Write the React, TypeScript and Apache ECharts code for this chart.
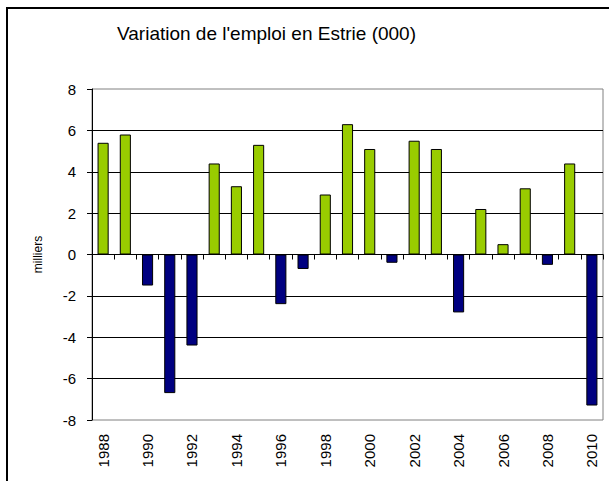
import React, { useEffect, useRef } from "react";
import * as echarts from "echarts";

const years: string[] = [
  "1988", "1989", "1990", "1991", "1992", "1993", "1994", "1995", "1996", "1997", "1998", "1999",
  "2000", "2001", "2002", "2003", "2004", "2005", "2006", "2007", "2008", "2009", "2010",
];
const variation: number[] = [
  5.4, 5.8, -1.5, -6.7, -4.4, 4.4, 3.3, 5.3, -2.4, -0.7, 2.9, 6.3,
  5.1, -0.4, 5.5, 5.1, -2.8, 2.2, 0.5, 3.2, -0.5, 4.4, -7.3,
];
const titleText = "Variation de l'emploi en Estrie (000)";
const yAxisName = "milliers";
const positiveColor = "#99CC00";
const negativeColor = "#000080";

export default function App() {
  const ref = useRef<HTMLDivElement>(null);
  useEffect(() => {
    if (!ref.current) return;
    const chart = echarts.init(ref.current, null, { renderer: "svg" });
    const font = "'Liberation Sans', Arial, sans-serif";
    chart.setOption({
      animation: false,
      backgroundColor: "#ffffff",
      title: {
        text: titleText,
        left: 112,
        top: 19,
        textStyle: {
          fontFamily: font,
          fontSize: 19,
          fontWeight: "normal",
          color: "#000",
        },
      },
      graphic: [
        {
          type: "rect",
          shape: { x: 7, y: 8, width: 700, height: 600 },
          style: { fill: "none", stroke: "#000", lineWidth: 2 },
          silent: true,
        },
      ],
      grid: {
        left: 92,
        right: 6,
        top: 89,
        bottom: 61,
        show: true,
        borderColor: "#808080",
        borderWidth: 1,
        backgroundColor: "transparent",
      },
      xAxis: [
        {
          type: "category",
          data: years,
          position: "bottom",
          axisLine: { show: true, onZero: true, lineStyle: { color: "#000", width: 1 } },
          axisTick: { show: true, interval: 0, length: 5, lineStyle: { color: "#000" } },
          axisLabel: { show: false },
          splitLine: { show: false },
        },
        {
          type: "category",
          data: years,
          position: "bottom",
          axisLine: { show: false, onZero: false },
          axisTick: { show: false },
          axisLabel: {
            show: true,
            interval: 1,
            rotate: 90,
            margin: 14,
            fontFamily: font,
            fontSize: 15,
            color: "#000",
          },
          splitLine: { show: false },
        },
      ],
      yAxis: {
        type: "value",
        min: -8,
        max: 8,
        interval: 2,
        name: yAxisName,
        nameLocation: "middle",
        nameRotate: 90,
        nameGap: 48,
        nameTextStyle: {
          fontFamily: font,
          fontSize: 12,
          color: "#000",
        },
        axisLine: { show: true, lineStyle: { color: "#000", width: 1 } },
        axisTick: { show: true, length: 5, lineStyle: { color: "#000" } },
        axisLabel: {
          margin: 16,
          fontFamily: font,
          fontSize: 15,
          color: "#000",
        },
        splitLine: {
          show: true,
          showMinLine: false,
          showMaxLine: false,
          lineStyle: { color: "#000", width: 1 },
        },
      },
      series: [
        {
          type: "bar",
          xAxisIndex: 0,
          data: variation,
          barWidth: "50%",
          itemStyle: {
            color: (p: any) => (p.value >= 0 ? positiveColor : negativeColor),
            borderColor: "#000",
            borderWidth: 1,
          },
        },
      ],
    });
    return () => chart.dispose();
  }, []);
  return (
    <div
      ref={ref}
      style={{ position: "fixed", left: 0, top: 0, width: 609, height: 481 }}
    />
  );
}
